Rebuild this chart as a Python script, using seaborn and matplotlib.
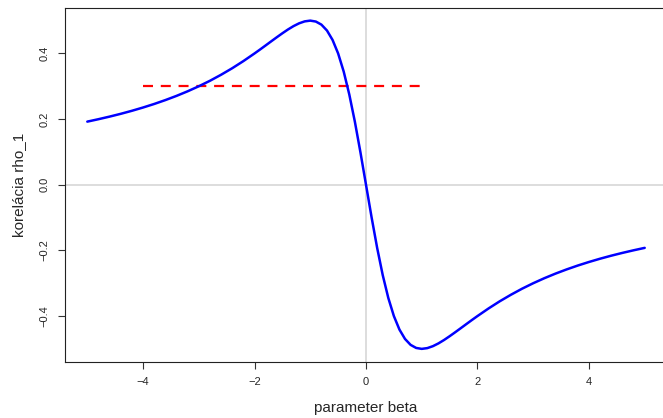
import numpy as np
import pandas as pd
import matplotlib
matplotlib.use("Agg")
import matplotlib.pyplot as plt
import seaborn as sns

# MA(1) first-order autocorrelation against the parameter beta
beta = [-5.0, -4.8, -4.6, -4.4, -4.2, -4.0, -3.8, -3.6, -3.4, -3.2,
        -3.0, -2.8, -2.6, -2.4, -2.2, -2.0, -1.9, -1.8, -1.7, -1.6,
        -1.5, -1.4, -1.3, -1.2, -1.1, -1.0, -0.9, -0.8, -0.7, -0.6,
        -0.5, -0.4, -0.3, -0.2, -0.1, 0.0, 0.1, 0.2, 0.3, 0.4,
        0.5, 0.6, 0.7, 0.8, 0.9, 1.0, 1.1, 1.2, 1.3, 1.4,
        1.5, 1.6, 1.7, 1.8, 1.9, 2.0, 2.2, 2.4, 2.6, 2.8,
        3.0, 3.2, 3.4, 3.6, 3.8, 4.0, 4.2, 4.4, 4.6, 4.8, 5.0]
rho1 = [0.1923, 0.1997, 0.2076, 0.2161, 0.2253, 0.2353, 0.2461, 0.2579, 0.2707, 0.2847,
        0.3000, 0.3167, 0.3351, 0.3550, 0.3767, 0.4000, 0.4121, 0.4245, 0.4370, 0.4494,
        0.4615, 0.4730, 0.4833, 0.4918, 0.4977, 0.5000, 0.4972, 0.4878, 0.4698, 0.4412,
        0.4000, 0.3448, 0.2752, 0.1923, 0.0990, 0.0000, -0.0990, -0.1923, -0.2752, -0.3448,
        -0.4000, -0.4412, -0.4698, -0.4878, -0.4972, -0.5000, -0.4977, -0.4918, -0.4833, -0.4730,
        -0.4615, -0.4494, -0.4370, -0.4245, -0.4121, -0.4000, -0.3767, -0.3550, -0.3351, -0.3167,
        -0.3000, -0.2847, -0.2707, -0.2579, -0.2461, -0.2353, -0.2253, -0.2161, -0.2076, -0.1997, -0.1923]

# horizontal reference level
ref_level = 0.3
ref_from = -4.0
ref_to = 1.0

x_ticks = [-4, -2, 0, 2, 4]
y_ticks = [-0.4, -0.2, 0.0, 0.2, 0.4]

sns.set_style("ticks")
plt.rcParams["font.family"] = ["Liberation Sans", "DejaVu Sans"]

df = pd.DataFrame({"beta": beta, "rho1": rho1})

fig = plt.figure(figsize=(6.63, 4.18), dpi=100)
ax = fig.add_axes([65 / 663, (418 - 362) / 418, (667 - 65) / 663, (362 - 7.5) / 418])

ax.axvline(0, color="#d3d3d3", lw=1.1, zorder=1)
ax.axhline(0, color="#d3d3d3", lw=1.1, zorder=1)

sns.lineplot(data=df, x="beta", y="rho1", sort=False, color="#0000ff",
             lw=1.8, ax=ax, zorder=3)
ax.plot([ref_from, ref_to], [ref_level, ref_level], color="#ff0000", lw=1.6,
        dashes=(4.5, 3.5), zorder=2)

ax.set_xlim(-5.4, 5.4)
ax.set_ylim(-0.54, 0.54)
ax.set_xticks(x_ticks)
ax.set_xticklabels([f"{t:d}".replace("-", "\u2212") for t in x_ticks])
ax.set_yticks(y_ticks)
ax.set_yticklabels([f"{t:.1f}".replace("-", "\u2212") for t in y_ticks],
                   rotation=90, va="center")
ax.tick_params(axis="both", direction="out", length=5, width=0.8,
               labelsize=8, color="#333333")
ax.tick_params(axis="x", pad=6)
ax.tick_params(axis="y", pad=6)

for side in ["top", "right", "left", "bottom"]:
    ax.spines[side].set_visible(True)
    ax.spines[side].set_color("#222222")
    ax.spines[side].set_linewidth(0.8)

ax.set_xlabel("parameter beta", fontsize=11, labelpad=10)
ax.set_ylabel("korelácia rho_1", fontsize=11, labelpad=10)

fig.savefig("out.png", dpi=100)
